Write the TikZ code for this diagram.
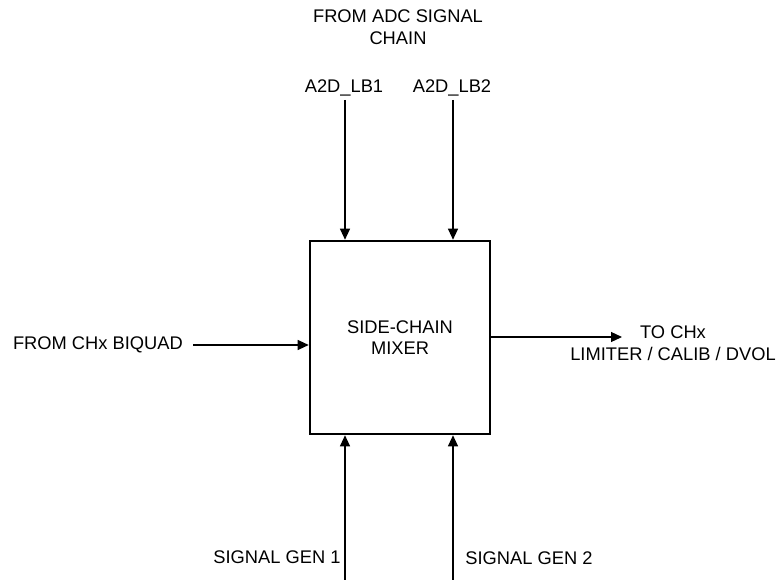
\documentclass[tikz,border=0pt]{standalone}
\usepackage{fontspec}
\setmainfont{Liberation Sans}
\usetikzlibrary{arrows.meta}
\begin{document}
\begin{tikzpicture}[x=1pt,y=-1pt,
  lbl/.style={inner sep=0pt,align=center,font=\fontsize{18.3}{21.5}\selectfont},
  sig/.style={line width=1.2pt,-{Triangle[length=11pt,width=10pt]}},
  mixbox/.style={draw,line width=2.6pt,minimum width=180pt,minimum height=193pt,inner sep=0pt,align=center,font=\fontsize{18.3}{21.5}\selectfont}]
\useasboundingbox (0,0) rectangle (781,580);
\node[mixbox] (box) at (400,337.5) {SIDE-CHAIN\\MIXER};
\node[lbl] (adc) at (398,27) {FROM ADC SIGNAL\\CHAIN};
\node[lbl,anchor=south] (lb1) at (344,96) {A2D\_LB1};
\node[lbl,anchor=south] (lb2) at (452,96) {A2D\_LB2};
\node[lbl,anchor=east] (biquad) at (183,345) {FROM CHx BIQUAD};
\node[lbl] (tochx) at (673,343) {TO CHx\\LIMITER / CALIB / DVOL};
\node[lbl] (gen1) at (277,557) {SIGNAL GEN 1};
\node[lbl] (gen2) at (529,558) {SIGNAL GEN 2};
\coordinate (lb1s) at (345,100);
\coordinate (lb2s) at (453,100);
\coordinate (g1s) at (345,581);
\coordinate (g2s) at (453,581);
\coordinate (outend) at (622,337);
\draw[sig] (lb1s) -- (lb1s |- box.north);
\draw[sig] (lb2s) -- (lb2s |- box.north);
\draw[sig] (g1s) -- (g1s |- box.south);
\draw[sig] (g2s) -- (g2s |- box.south);
\draw[sig] ([xshift=10pt]biquad.east) -- (box.west |- biquad.east);
\draw[sig] (box.east |- outend) -- (outend);
\end{tikzpicture}
\end{document}
